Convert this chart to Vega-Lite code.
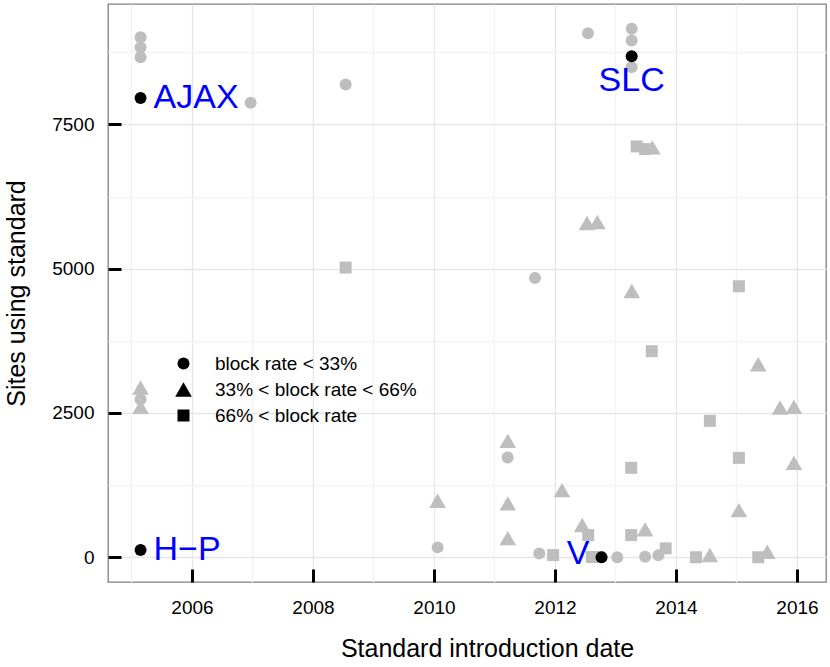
{
  "$schema": "https://vega.github.io/schema/vega-lite/v6.json",
  "width": 718,
  "height": 578,
  "autosize": {"type": "none"},
  "padding": {"left": 108, "top": 4, "right": 4, "bottom": 85},
  "background": "white",
  "config": {
    "font": "Liberation Sans",
    "view": {"stroke": "#808080", "strokeWidth": 1.3},
    "axis": {
      "domain": false,
      "grid": true,
      "gridWidth": 1.3,
      "tickColor": "black",
      "tickWidth": 3,
      "tickSize": -13,
      "labelFont": "Liberation Sans",
      "labelFontSize": 19,
      "labelColor": "black",
      "titleFont": "Liberation Sans",
      "titleFontSize": 25,
      "titleFontWeight": "normal",
      "titleColor": "black"
    },
    "legend": {
      "labelFont": "Liberation Sans",
      "labelFontSize": 19,
      "labelColor": "black",
      "labelLimit": 400
    }
  },
  "data": {
    "values": [
      {"year": 2005.15, "sites": 9013, "block": "block rate < 33%", "hl": "no", "label": ""},
      {"year": 2005.15, "sites": 8840, "block": "block rate < 33%", "hl": "no", "label": ""},
      {"year": 2005.15, "sites": 8667, "block": "block rate < 33%", "hl": "no", "label": ""},
      {"year": 2006.97, "sites": 7877, "block": "block rate < 33%", "hl": "no", "label": ""},
      {"year": 2008.54, "sites": 8194, "block": "block rate < 33%", "hl": "no", "label": ""},
      {"year": 2012.545, "sites": 9082, "block": "block rate < 33%", "hl": "no", "label": ""},
      {"year": 2013.268, "sites": 9158, "block": "block rate < 33%", "hl": "no", "label": ""},
      {"year": 2013.268, "sites": 8956, "block": "block rate < 33%", "hl": "no", "label": ""},
      {"year": 2013.268, "sites": 8494, "block": "block rate < 33%", "hl": "no", "label": ""},
      {"year": 2011.67, "sites": 4840, "block": "block rate < 33%", "hl": "no", "label": ""},
      {"year": 2005.15, "sites": 2734, "block": "block rate < 33%", "hl": "no", "label": ""},
      {"year": 2010.06, "sites": 171, "block": "block rate < 33%", "hl": "no", "label": ""},
      {"year": 2011.218, "sites": 1730, "block": "block rate < 33%", "hl": "no", "label": ""},
      {"year": 2011.74, "sites": 64, "block": "block rate < 33%", "hl": "no", "label": ""},
      {"year": 2013.03, "sites": 0, "block": "block rate < 33%", "hl": "no", "label": ""},
      {"year": 2013.49, "sites": 9, "block": "block rate < 33%", "hl": "no", "label": ""},
      {"year": 2013.71, "sites": 33, "block": "block rate < 33%", "hl": "no", "label": ""},
      {"year": 2005.15, "sites": 2942, "block": "33% < block rate < 66%", "hl": "no", "label": ""},
      {"year": 2005.15, "sites": 2606, "block": "33% < block rate < 66%", "hl": "no", "label": ""},
      {"year": 2012.53, "sites": 5792, "block": "33% < block rate < 66%", "hl": "no", "label": ""},
      {"year": 2012.70, "sites": 5810, "block": "33% < block rate < 66%", "hl": "no", "label": ""},
      {"year": 2013.27, "sites": 4615, "block": "33% < block rate < 66%", "hl": "no", "label": ""},
      {"year": 2013.61, "sites": 7103, "block": "33% < block rate < 66%", "hl": "no", "label": ""},
      {"year": 2010.06, "sites": 978, "block": "33% < block rate < 66%", "hl": "no", "label": ""},
      {"year": 2011.22, "sites": 2017, "block": "33% < block rate < 66%", "hl": "no", "label": ""},
      {"year": 2011.22, "sites": 933, "block": "33% < block rate < 66%", "hl": "no", "label": ""},
      {"year": 2011.22, "sites": 332, "block": "33% < block rate < 66%", "hl": "no", "label": ""},
      {"year": 2012.116, "sites": 1164, "block": "33% < block rate < 66%", "hl": "no", "label": ""},
      {"year": 2012.45, "sites": 558, "block": "33% < block rate < 66%", "hl": "no", "label": ""},
      {"year": 2013.49, "sites": 483, "block": "33% < block rate < 66%", "hl": "no", "label": ""},
      {"year": 2014.56, "sites": 38, "block": "33% < block rate < 66%", "hl": "no", "label": ""},
      {"year": 2015.04, "sites": 817, "block": "33% < block rate < 66%", "hl": "no", "label": ""},
      {"year": 2015.51, "sites": 95, "block": "33% < block rate < 66%", "hl": "no", "label": ""},
      {"year": 2015.72, "sites": 2596, "block": "33% < block rate < 66%", "hl": "no", "label": ""},
      {"year": 2015.95, "sites": 2606, "block": "33% < block rate < 66%", "hl": "no", "label": ""},
      {"year": 2015.95, "sites": 1636, "block": "33% < block rate < 66%", "hl": "no", "label": ""},
      {"year": 2015.36, "sites": 3345, "block": "33% < block rate < 66%", "hl": "no", "label": ""},
      {"year": 2008.54, "sites": 5020, "block": "66% < block rate", "hl": "no", "label": ""},
      {"year": 2013.35, "sites": 7120, "block": "66% < block rate", "hl": "no", "label": ""},
      {"year": 2013.49, "sites": 7074, "block": "66% < block rate", "hl": "no", "label": ""},
      {"year": 2013.60, "sites": 3571, "block": "66% < block rate", "hl": "no", "label": ""},
      {"year": 2015.04, "sites": 4696, "block": "66% < block rate", "hl": "no", "label": ""},
      {"year": 2014.56, "sites": 2364, "block": "66% < block rate", "hl": "no", "label": ""},
      {"year": 2015.04, "sites": 1723, "block": "66% < block rate", "hl": "no", "label": ""},
      {"year": 2013.26, "sites": 1550, "block": "66% < block rate", "hl": "no", "label": ""},
      {"year": 2011.97, "sites": 38, "block": "66% < block rate", "hl": "no", "label": ""},
      {"year": 2012.55, "sites": 384, "block": "66% < block rate", "hl": "no", "label": ""},
      {"year": 2013.26, "sites": 384, "block": "66% < block rate", "hl": "no", "label": ""},
      {"year": 2013.83, "sites": 154, "block": "66% < block rate", "hl": "no", "label": ""},
      {"year": 2014.33, "sites": 0, "block": "66% < block rate", "hl": "no", "label": ""},
      {"year": 2015.36, "sites": 0, "block": "66% < block rate", "hl": "no", "label": ""},
      {"year": 2012.61, "sites": 3, "block": "66% < block rate", "hl": "no", "label": ""},
      {"year": 2012.71, "sites": 3, "block": "66% < block rate", "hl": "no", "label": ""},
      {"year": 2005.15, "sites": 7957, "block": "block rate < 33%", "hl": "yes", "label": "AJAX"},
      {"year": 2013.268, "sites": 8684, "block": "block rate < 33%", "hl": "yes", "label": "SLC"},
      {"year": 2005.15, "sites": 125, "block": "block rate < 33%", "hl": "yes", "label": "H−P"},
      {"year": 2012.77, "sites": 0, "block": "block rate < 33%", "hl": "yes", "label": "V"}
    ]
  },
  "encoding": {
    "x": {
      "field": "year",
      "type": "quantitative",
      "title": "Standard introduction date",
      "scale": {"domain": [2004.612, 2016.48], "nice": false, "zero": false},
      "axis": {
        "values": [2005, 2006, 2007, 2008, 2009, 2010, 2011, 2012, 2013, 2014, 2015, 2016],
        "format": "d",
        "labelExpr": "datum.value % 2 ? '' : datum.label",
        "labelPadding": 29,
        "titlePadding": 19,
        "titleX": 379,
        "gridColor": {"condition": {"test": "datum.value % 2", "value": "#F3F3F3"}, "value": "#E6E6E6"},
        "tickOpacity": {"condition": {"test": "datum.value % 2", "value": 0}, "value": 1}
      }
    },
    "y": {
      "field": "sites",
      "type": "quantitative",
      "title": "Sites using standard",
      "scale": {"domain": [-429, 9588], "nice": false, "zero": false},
      "axis": {
        "values": [0, 1250, 2500, 3750, 5000, 6250, 7500, 8750],
        "labelExpr": "datum.value % 2500 ? '' : format(datum.value, 'd')",
        "labelPadding": 27,
        "titlePadding": 22,
        "gridColor": {"condition": {"test": "datum.value % 2500", "value": "#F3F3F3"}, "value": "#E6E6E6"},
        "tickOpacity": {"condition": {"test": "datum.value % 2500", "value": 0}, "value": 1}
      }
    }
  },
  "layer": [
    {
      "mark": {"type": "point", "filled": true, "opacity": 1, "size": 144},
      "encoding": {
        "shape": {
          "field": "block",
          "type": "nominal",
          "scale": {"domain": ["block rate < 33%", "33% < block rate < 66%", "66% < block rate"], "range": ["circle", "M0,-1.2L1.39,1.2L-1.39,1.2Z", "square"]},
          "legend": {"title": null, "orient": "none", "legendX": 66, "legendY": 350, "padding": 0, "rowPadding": 6, "labelOffset": 22, "symbolSize": 144, "symbolFillColor": "black", "symbolStrokeColor": "black", "symbolStrokeWidth": 0}
        },
        "color": {
          "field": "hl",
          "type": "nominal",
          "scale": {"domain": ["no", "yes"], "range": ["#BEBEBE", "#000000"]},
          "legend": null
        }
      }
    },
    {
      "transform": [{"filter": "datum.label == 'AJAX' || datum.label == 'H−P'"}],
      "mark": {"type": "text", "align": "left", "baseline": "middle", "dx": 13, "fontSize": 34, "color": "#0000FF", "font": "Liberation Sans"},
      "encoding": {"text": {"field": "label"}}
    },
    {
      "transform": [{"filter": "datum.label == 'SLC'"}],
      "mark": {"type": "text", "align": "center", "baseline": "middle", "dy": 25, "fontSize": 34, "color": "#0000FF", "font": "Liberation Sans"},
      "encoding": {"text": {"field": "label"}}
    },
    {
      "transform": [{"filter": "datum.label == 'V'"}],
      "mark": {"type": "text", "align": "right", "baseline": "middle", "dx": -12, "dy": -3, "fontSize": 34, "color": "#0000FF", "font": "Liberation Sans"},
      "encoding": {"text": {"field": "label"}}
    }
  ]
}
